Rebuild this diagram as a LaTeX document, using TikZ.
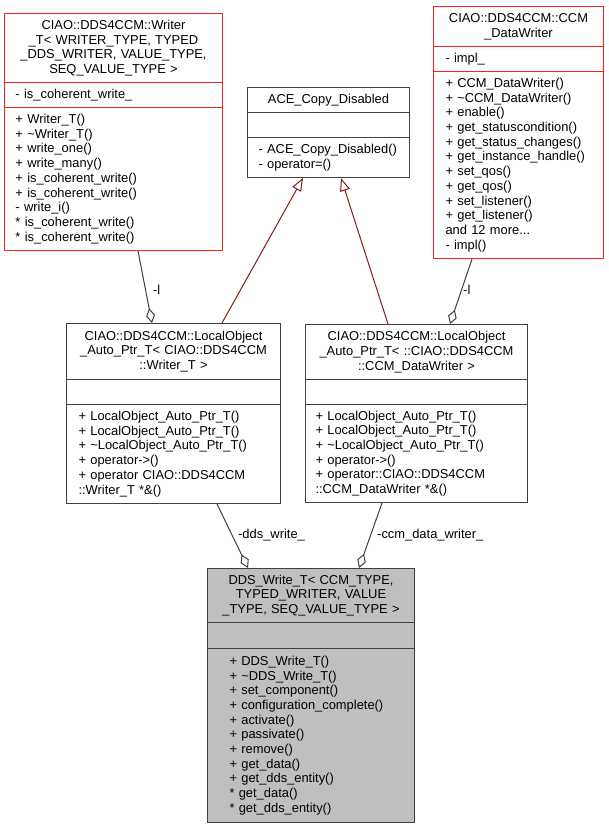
\documentclass[tikz,border=0pt]{standalone}
\usepackage{fontspec}
\setmainfont{Liberation Sans}
\usepackage{tikz}
\usetikzlibrary{arrows.meta}
\usepackage{color}

\definecolor{linegray}{HTML}{404040}
\definecolor{inhred}{HTML}{8B1A1A}
\definecolor{boxred}{HTML}{FF2020}
\definecolor{boxgray}{HTML}{BFBFBF}

\tikzset{
  uml/.style={draw=linegray, line width=1pt, anchor=north west, inner xsep=0pt, inner ysep=2pt,
    font=\fontsize{12.9}{14.7}\selectfont},
  umlhead/.style={uml, align=center},
  umlbody/.style={uml, align=left, execute at begin node={\leftskip=#1\relax}},
  umlbody/.default=11pt,
  member/.style={draw=linegray, line width=1pt, -{Diamond[open, length=15pt, width=9pt]}},
  inherit/.style={draw=inhred, line width=1pt, -{Triangle[open, length=13pt, width=10pt]}},
  edgelabel/.style={anchor=west, inner sep=0pt, font=\fontsize{12.9}{14.7}\selectfont}
}

\begin{document}
\begin{tikzpicture}[x=1pt, y=-1pt]
  \useasboundingbox (0,0) rectangle (608,827);

  % Writer_T
  \node[umlhead, draw=boxred, text width=218pt, minimum height=69pt] (wrhead) at (4,13)
    {CIAO::DDS4CCM::Writer\\\_T< WRITER\_TYPE, TYPED\\\_DDS\_WRITER, VALUE\_TYPE,\\SEQ\_VALUE\_TYPE >};
  \node[umlbody, draw=boxred, text width=218pt, minimum height=25pt] (wrattr) at (4,82)
    {- is\_coherent\_write\_};
  \node[umlbody, draw=boxred, text width=218pt, minimum height=143pt] (wrmeth) at (4,107)
    {+ Writer\_T()\\+ \textasciitilde Writer\_T()\\+ write\_one()\\+ write\_many()\\
     + is\_coherent\_write()\\+ is\_coherent\_write()\\- write\_i()\\
     {*} is\_coherent\_write()\\{*} is\_coherent\_write()};

  % ACE_Copy_Disabled
  \node[umlhead, text width=162pt, minimum height=25pt] (acehead) at (247,87)
    {ACE\_Copy\_Disabled};
  \node[umlbody, text width=162pt, minimum height=25pt] (aceattr) at (247,112) {};
  \node[umlbody, text width=162pt, minimum height=40pt] (acemeth) at (247,137)
    {- ACE\_Copy\_Disabled()\\- operator=()};

  % CCM_DataWriter
  \node[umlhead, draw=boxred, text width=170pt, minimum height=40pt] (dwhead) at (433,6)
    {CIAO::DDS4CCM::CCM\\\_DataWriter};
  \node[umlbody=12pt, draw=boxred, text width=170pt, minimum height=25pt] (dwattr) at (433,46)
    {- impl\_};
  \node[umlbody=12pt, draw=boxred, text width=170pt, minimum height=187pt] (dwmeth) at (433,71)
    {+ CCM\_DataWriter()\\+ \textasciitilde CCM\_DataWriter()\\+ enable()\\
     + get\_statuscondition()\\+ get\_status\_changes()\\+ get\_instance\_handle()\\
     + set\_qos()\\+ get\_qos()\\+ set\_listener()\\+ get\_listener()\\
     and 12 more...\\- impl()};

  % LocalObject_Auto_Ptr_T< Writer_T >
  \node[umlhead, text width=214pt, minimum height=56pt] (lowrhead) at (66,323)
    {CIAO::DDS4CCM::LocalObject\\\_Auto\_Ptr\_T< CIAO::DDS4CCM\\::Writer\_T >};
  \node[umlbody, text width=214pt, minimum height=25pt] (lowrattr) at (66,379) {};
  \node[umlbody=12pt, text width=214pt, minimum height=99pt] (lowrmeth) at (66,404)
    {+ LocalObject\_Auto\_Ptr\_T()\\+ LocalObject\_Auto\_Ptr\_T()\\
     + \textasciitilde LocalObject\_Auto\_Ptr\_T()\\+ operator->()\\
     + operator CIAO::DDS4CCM\\::Writer\_T *\&()};

  % LocalObject_Auto_Ptr_T< CCM_DataWriter >
  \node[umlhead, text width=222pt, minimum height=55pt] (lodwhead) at (305,324)
    {CIAO::DDS4CCM::LocalObject\\\_Auto\_Ptr\_T< ::CIAO::DDS4CCM\\::CCM\_DataWriter >};
  \node[umlbody, text width=222pt, minimum height=25pt] (lodwattr) at (305,379) {};
  \node[umlbody=10pt, text width=222pt, minimum height=98pt] (lodwmeth) at (305,404)
    {+ LocalObject\_Auto\_Ptr\_T()\\+ LocalObject\_Auto\_Ptr\_T()\\
     + \textasciitilde LocalObject\_Auto\_Ptr\_T()\\+ operator->()\\
     + operator::CIAO::DDS4CCM\\::CCM\_DataWriter *\&()};

  % DDS_Write_T
  \node[umlhead, fill=boxgray, text width=207pt, minimum height=54pt] (ddshead) at (207,568)
    {DDS\_Write\_T< CCM\_TYPE,\\TYPED\_WRITER, VALUE\\\_TYPE, SEQ\_VALUE\_TYPE >};
  \node[umlbody, fill=boxgray, text width=207pt, minimum height=26pt] (ddsattr) at (207,622) {};
  \node[umlbody=22pt, fill=boxgray, text width=207pt, minimum height=174pt] (ddsmeth) at (207,648)
    {+ DDS\_Write\_T()\\+ \textasciitilde DDS\_Write\_T()\\+ set\_component()\\
     + configuration\_complete()\\+ activate()\\+ passivate()\\+ remove()\\
     + get\_data()\\+ get\_dds\_entity()\\{*} get\_data()\\{*} get\_dds\_entity()};

  % draw diagram
  \draw[member] ([xshift=134pt]wrmeth.south west) -- ([xshift=86pt]lowrhead.north west);
  \draw[member] ([xshift=39pt]dwmeth.south west) -- ([xshift=145pt]lodwhead.north west);
  \draw[inherit] ([xshift=156pt]lowrhead.north west) -- ([xshift=56pt]acemeth.south west);
  \draw[inherit] ([xshift=83pt]lodwhead.north west) -- ([xshift=94pt]acemeth.south west);
  \draw[member] ([xshift=151pt]lowrmeth.south west) -- ([xshift=41pt]ddshead.north west);
  \draw[member] ([xshift=77pt]lodwmeth.south west) -- ([xshift=152pt]ddshead.north west);

  % labels
  \node[edgelabel] (wrlabel) at (153,290) {-l};
  \node[edgelabel] (dwlabel) at (463,290) {-l};
  \node[edgelabel] (ddswlabel) at (238,535) {-dds\_write\_};
  \node[edgelabel] (ccmlabel) at (377,535) {-ccm\_data\_writer\_};
\end{tikzpicture}
\end{document}
